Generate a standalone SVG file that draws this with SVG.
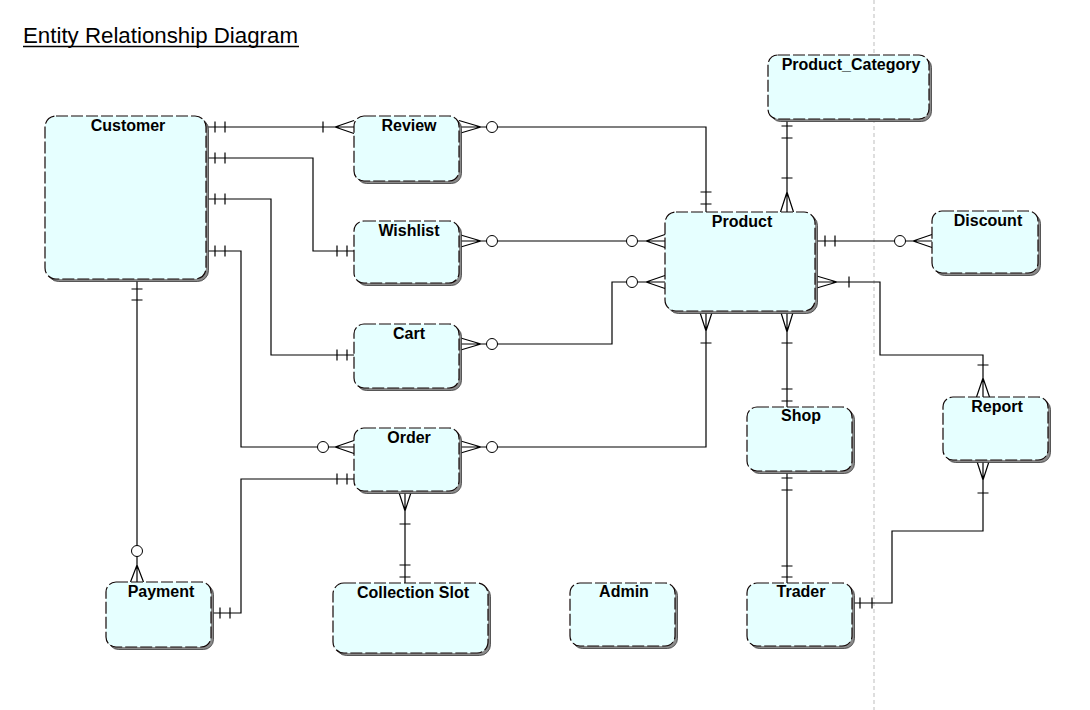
<svg xmlns="http://www.w3.org/2000/svg" width="1090" height="710" viewBox="0 0 1090 710">
<style>
.shadow{fill:#8a8a8a;stroke:#3a3a3a;stroke-width:0.8}
.box{fill:#E6FFFF;stroke:#140808;stroke-width:1.2;stroke-dasharray:12 3}
.lbl{font-family:"Liberation Sans",Arial,sans-serif;font-weight:bold;font-size:16px;fill:#000;text-anchor:middle}
.ln{fill:none;stroke:#000;stroke-width:1.2}
.circ{fill:#fff;stroke:#000;stroke-width:1}
</style>
<rect width="1090" height="710" fill="#fff"/>
<line x1="874" y1="0" x2="874" y2="710" stroke="#bdbdbd" stroke-width="1" stroke-dasharray="4 3"/>
<text x="23" y="43" font-family="Liberation Sans,Arial,sans-serif" font-size="22" fill="#000" textLength="275" lengthAdjust="spacingAndGlyphs">Entity Relationship Diagram</text>
<line x1="23" y1="46.5" x2="299" y2="46.5" stroke="#000" stroke-width="1.5"/>

<g id="connectors" class="ln">
<!-- Customer-Review -->
<path d="M206,127H354M215,121.5V132.5M225,121.5V132.5M323,121.5V132.5M335,127L354,120.5M335,127L354,133.5"/>
<!-- Review-Product -->
<path d="M459,127H706V212M481,127L459,120.5M481,127L459,133.5M700.5,192H711.5M700.5,204H711.5"/>
<circle class="circ" cx="492" cy="127" r="5.5"/>
<!-- Customer-Wishlist -->
<path d="M206,158H313V251H354M215,152.5V163.5M225,152.5V163.5M337,245.5V256.5M347,245.5V256.5"/>
<!-- Wishlist-Product -->
<path d="M459,241H665M481,241L459,234.5M481,241L459,247.5M646,241L665,234.5M646,241L665,247.5"/>
<circle class="circ" cx="492" cy="241" r="5.5"/>
<circle class="circ" cx="632" cy="241" r="5.5"/>
<!-- Customer-Cart -->
<path d="M206,199H271V355H354M215,193.5V204.5M225,193.5V204.5M337,349.5V360.5M347,349.5V360.5"/>
<!-- Cart-Product -->
<path d="M459,344H612V282H665M481,344L459,337.5M481,344L459,350.5M646,282L665,275.5M646,282L665,288.5"/>
<circle class="circ" cx="492" cy="344" r="5.5"/>
<circle class="circ" cx="632" cy="282" r="5.5"/>
<!-- Customer-Order -->
<path d="M206,251H241V447H354M215,245.5V256.5M225,245.5V256.5M335,447L354,440.5M335,447L354,453.5"/>
<circle class="circ" cx="323" cy="447" r="5.5"/>
<!-- Order-Product -->
<path d="M459,447H706V311M481,447L459,440.5M481,447L459,453.5M706,331L699.5,311M706,331L712.5,311M700.5,343H711.5"/>
<circle class="circ" cx="492" cy="447" r="5.5"/>
<!-- Customer-Payment -->
<path d="M137,279V582M131.5,289H142.5M131.5,300H142.5M137,565L130.5,582M137,565L143.5,582"/>
<circle class="circ" cx="137" cy="551" r="5.5"/>
<!-- Order-Payment -->
<path d="M354,479H241V613H211M337,473.5V484.5M347,473.5V484.5M220,607.5V618.5M230,607.5V618.5"/>
<!-- Order-Collection Slot -->
<path d="M405,491V583M405,511L398.5,491M405,511L411.5,491M399.5,524H410.5M399.5,565H410.5M399.5,577H410.5"/>
<!-- Product-Product_Category -->
<path d="M787,119V212M781.5,126H792.5M781.5,138H792.5M781.5,178H792.5M787,192L780.5,212M787,192L793.5,212"/>
<!-- Product-Discount -->
<path d="M815,241H932M825,235.5V246.5M835,235.5V246.5M913,241L932,234.5M913,241L932,247.5"/>
<circle class="circ" cx="900" cy="241" r="5.5"/>
<!-- Product-Report -->
<path d="M815,282H880V355H983V397M837,282L815,275.5M837,282L815,288.5M849,276.5V287.5M977.5,365H988.5M983,378L976.5,397M983,378L989.5,397"/>
<!-- Report-Trader -->
<path d="M983,460V531H892V603H852M983,480L976.5,460M983,480L989.5,460M977.5,493H988.5M860,597.5V608.5M872,597.5V608.5"/>
<!-- Product-Shop -->
<path d="M787,311V407M787,332L780.5,311M787,332L793.5,311M781.5,343H792.5M781.5,389H792.5M781.5,401H792.5"/>
<!-- Shop-Trader -->
<path d="M787,471V583M781.5,478H792.5M781.5,490H792.5M781.5,566H792.5M781.5,577H792.5"/>
</g>

<g id="Customer"><rect class="shadow" x="47.5" y="118.5" width="161" height="163" rx="11"/><rect class="box" x="45" y="116" width="161" height="163" rx="11"/><text class="lbl" x="128" y="131">Customer</text></g>
<g id="Review"><rect class="shadow" x="356.5" y="118.5" width="105" height="65" rx="10"/><rect class="box" x="354" y="116" width="105" height="65" rx="10"/><text class="lbl" x="409" y="131">Review</text></g>
<g id="Wishlist"><rect class="shadow" x="356.5" y="223.5" width="105" height="62" rx="10"/><rect class="box" x="354" y="221" width="105" height="62" rx="10"/><text class="lbl" x="409" y="236">Wishlist</text></g>
<g id="Cart"><rect class="shadow" x="356.5" y="326.5" width="105" height="64" rx="10"/><rect class="box" x="354" y="324" width="105" height="64" rx="10"/><text class="lbl" x="409" y="339">Cart</text></g>
<g id="Order"><rect class="shadow" x="356.5" y="430.5" width="105" height="63" rx="10"/><rect class="box" x="354" y="428" width="105" height="63" rx="10"/><text class="lbl" x="409" y="443">Order</text></g>
<g id="Product"><rect class="shadow" x="667.5" y="214.5" width="150" height="99" rx="11"/><rect class="box" x="665" y="212" width="150" height="99" rx="11"/><text class="lbl" x="742" y="227">Product</text></g>
<g id="Product_Category"><rect class="shadow" x="770.5" y="57.5" width="161" height="64" rx="10"/><rect class="box" x="768" y="55" width="161" height="64" rx="10"/><text class="lbl" x="851" y="70">Product_Category</text></g>
<g id="Discount"><rect class="shadow" x="934.5" y="213.5" width="106" height="62" rx="10"/><rect class="box" x="932" y="211" width="106" height="62" rx="10"/><text class="lbl" x="988" y="226">Discount</text></g>
<g id="Report"><rect class="shadow" x="945.5" y="399.5" width="105" height="63" rx="10"/><rect class="box" x="943" y="397" width="105" height="63" rx="10"/><text class="lbl" x="997" y="412">Report</text></g>
<g id="Shop"><rect class="shadow" x="749.5" y="409.5" width="105" height="64" rx="10"/><rect class="box" x="747" y="407" width="105" height="64" rx="10"/><text class="lbl" x="801" y="421">Shop</text></g>
<g id="Trader"><rect class="shadow" x="749.5" y="585.5" width="105" height="63" rx="10"/><rect class="box" x="747" y="583" width="105" height="63" rx="10"/><text class="lbl" x="801" y="597">Trader</text></g>
<g id="Admin"><rect class="shadow" x="572.5" y="585.5" width="105" height="63" rx="10"/><rect class="box" x="570" y="583" width="105" height="63" rx="10"/><text class="lbl" x="624" y="597">Admin</text></g>
<g id="Payment"><rect class="shadow" x="108.5" y="584.5" width="105" height="65" rx="10"/><rect class="box" x="106" y="582" width="105" height="65" rx="10"/><text class="lbl" x="161" y="597">Payment</text></g>
<g id="Collection_Slot"><rect class="shadow" x="335.5" y="585.5" width="155" height="70" rx="11"/><rect class="box" x="333" y="583" width="155" height="70" rx="11"/><text class="lbl" x="413" y="598">Collection Slot</text></g>
</svg>
